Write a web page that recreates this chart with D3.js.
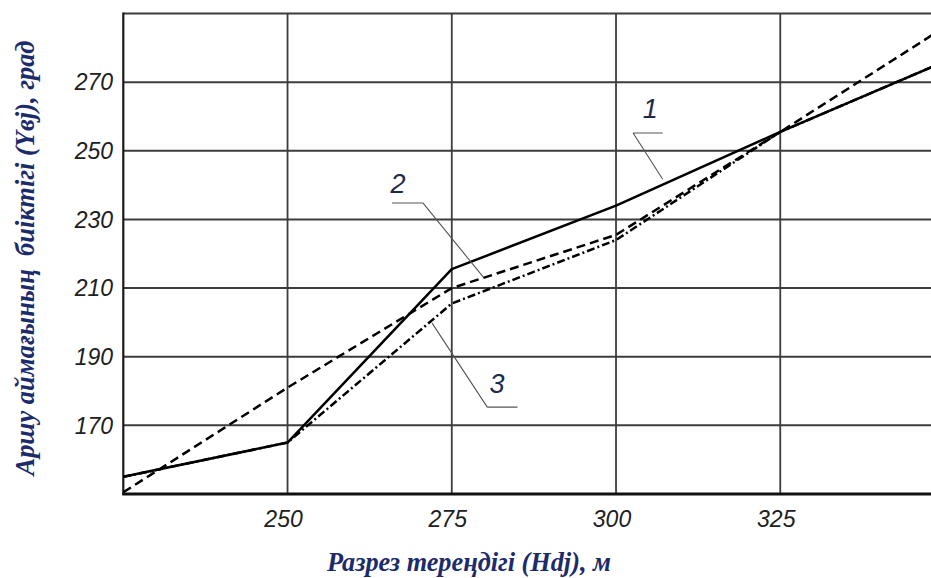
<!DOCTYPE html>
<html>
<head>
<meta charset="utf-8">
<script src="https://cdn.jsdelivr.net/npm/d3@7"></script>
<style>
  html, body { margin: 0; padding: 0; background: #fff; }
  svg { display: block; }
</style>
</head>
<body>
<svg id="chart" width="931" height="578"></svg>
<script>
// ---- data ----
const depth = [225, 250, 275, 300, 325, 350];
const series1 = [155, 165, 215.5, 234, 255.5, 276];   // curve 1, solid
const series2 = [150.5, 181, 210, 225.5, 255.5, 286]; // curve 2, dashed
const series3 = [155, 165, 205.5, 224, 255.5, 276];   // curve 3, dash-dot
const xTicks = [250, 275, 300, 325];
const yTicks = [170, 190, 210, 230, 250, 270];
const xTitle = "Разрез тереңдігі (Hdj), м";
const yTitle = "Аршу аймағының  биіктігі (Yвj), град";
// curve labels (data units): label position, leader shelf, leader target
const curveLabels = [
  { text: "1", lx: 305.2, ly: 262.4, sx0: 302.6, sx1: 307.1, sy: 255.2, tx: 307.1, ty: 241.7, joint: "start" },
  { text: "2", lx: 266.8, ly: 240.6, sx0: 265.9, sx1: 270.6, sy: 234.8, tx: 279.8, ty: 213.2, joint: "end" },
  { text: "3", lx: 281.9, ly: 182.3, sx0: 280.4, sx1: 285.0, sy: 175.3, tx: 272.0, ty: 199.8, joint: "start" }
];

// ---- layout ----
const svg = d3.select("#chart");
const x = d3.scaleLinear().domain([225, 350]).range([123.3, 944.5]);
const y = d3.scaleLinear().domain([150, 290]).range([494, 13.5]);

const g = svg.append("g");

// grid
g.append("g").selectAll("line")
  .data(yTicks.concat([290]))
  .join("line")
  .attr("x1", x(225)).attr("x2", x(350))
  .attr("y1", d => y(d)).attr("y2", d => y(d))
  .attr("stroke", "#3c3c3c").attr("stroke-width", 2);

g.append("g").selectAll("line")
  .data(xTicks)
  .join("line")
  .attr("x1", d => x(d)).attr("x2", d => x(d))
  .attr("y1", y(290)).attr("y2", y(150))
  .attr("stroke", "#3c3c3c").attr("stroke-width", 1.8);

// left border
g.append("line")
  .attr("x1", x(225)).attr("x2", x(225))
  .attr("y1", y(290) - 1).attr("y2", y(150) + 1)
  .attr("stroke", "#1a1a1a").attr("stroke-width", 2.2);

// bottom axis line
g.append("line")
  .attr("x1", x(225) - 1).attr("x2", x(350))
  .attr("y1", y(150)).attr("y2", y(150))
  .attr("stroke", "#111").attr("stroke-width", 2.8);

// tick labels
const tickFont = "'Liberation Sans', Arial, sans-serif";
g.append("g").selectAll("text")
  .data(yTicks)
  .join("text")
  .attr("x", 113).attr("y", d => y(d))
  .attr("dy", "0.36em")
  .attr("text-anchor", "end")
  .attr("font-family", tickFont)
  .attr("font-style", "italic")
  .attr("font-size", 23)
  .attr("fill", "#202020")
  .text(d => d);

g.append("g").selectAll("text")
  .data(xTicks)
  .join("text")
  .attr("x", d => x(d) - 4).attr("y", 527)
  .attr("text-anchor", "middle")
  .attr("font-family", tickFont)
  .attr("font-style", "italic")
  .attr("font-size", 23)
  .attr("fill", "#202020")
  .text(d => d);

// curves
const line = d3.line().x(d => x(d[0])).y(d => y(d[1]));
const mk = s => depth.map((d, i) => [d, s[i]]);

g.append("path").datum(mk(series1))
  .attr("d", line).attr("fill", "none")
  .attr("stroke", "#000").attr("stroke-width", 2.5)
  .attr("stroke-linejoin", "round");

g.append("path").datum(mk(series2))
  .attr("d", line).attr("fill", "none")
  .attr("stroke", "#000").attr("stroke-width", 2.5)
  .attr("stroke-dasharray", "9,5");

g.append("path").datum(mk(series3))
  .attr("d", line).attr("fill", "none")
  .attr("stroke", "#000").attr("stroke-width", 2.5)
  .attr("stroke-dasharray", "8,3,2,3");

// curve labels and leaders
const lab = g.append("g");
curveLabels.forEach(c => {
  const jx = c.joint === "start" ? c.sx0 : c.sx1;
  lab.append("path")
    .attr("d", `M${x(c.sx0)},${y(c.sy)}H${x(c.sx1)}M${x(jx)},${y(c.sy)}L${x(c.tx)},${y(c.ty)}`)
    .attr("fill", "none").attr("stroke", "#555").attr("stroke-width", 1.1);
  lab.append("text")
    .attr("x", x(c.lx)).attr("y", y(c.ly))
    .attr("text-anchor", "middle")
    .attr("dy", "0.36em")
    .attr("font-family", tickFont)
    .attr("font-style", "italic")
    .attr("font-size", 27)
    .attr("fill", "#1d2a4a")
    .text(c.text);
});

// axis titles
const titleFont = "'Liberation Serif', 'Times New Roman', serif";
svg.append("text")
  .attr("x", 469).attr("y", 571)
  .attr("text-anchor", "middle")
  .attr("font-family", titleFont)
  .attr("font-style", "italic")
  .attr("font-weight", "bold")
  .attr("font-size", 27)
  .attr("fill", "#1c2b6b")
  .attr("textLength", 284)
  .attr("lengthAdjust", "spacingAndGlyphs")
  .text(xTitle);

svg.append("text")
  .attr("transform", "translate(34,258) rotate(-90)")
  .attr("text-anchor", "middle")
  .attr("font-family", titleFont)
  .attr("font-style", "italic")
  .attr("font-weight", "bold")
  .attr("font-size", 27)
  .attr("fill", "#1c2b6b")
  .attr("textLength", 435)
  .attr("lengthAdjust", "spacingAndGlyphs")
  .style("white-space", "pre")
  .text(yTitle);
</script>
</body>
</html>
